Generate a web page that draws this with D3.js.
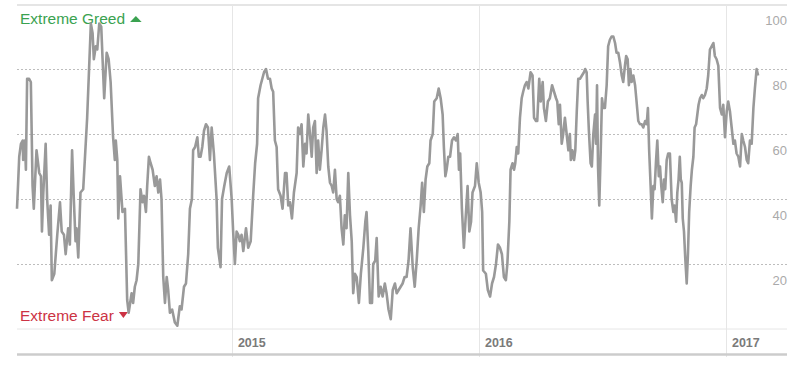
<!DOCTYPE html>
<html>
<head>
<meta charset="utf-8">
<script src="https://cdn.jsdelivr.net/npm/d3@7"></script>
<style>
  body { margin: 0; background: #fff; }
  svg text { font-family: "Liberation Sans", Arial, Helvetica, sans-serif; }
</style>
</head>
<body>
<div id="chart"></div>
<script>
// fear & greed index, dates as decimal years
var dates = [
  2014.130, 2014.134, 2014.139, 2014.146, 2014.153, 2014.155, 2014.162, 2014.166, 2014.171, 2014.179, 2014.186, 2014.190, 2014.193, 2014.198,
  2014.209, 2014.220, 2014.227, 2014.231, 2014.236, 2014.246, 2014.252, 2014.260, 2014.266, 2014.271, 2014.281, 2014.293, 2014.304, 2014.311, 2014.320, 2014.327,
  2014.337, 2014.344, 2014.353, 2014.360, 2014.367, 2014.371, 2014.378, 2014.387, 2014.398, 2014.414, 2014.429, 2014.436, 2014.441, 2014.449, 2014.455,
  2014.463, 2014.471, 2014.483, 2014.493, 2014.501, 2014.509, 2014.519, 2014.526, 2014.530, 2014.536, 2014.540, 2014.547, 2014.557, 2014.567, 2014.576,
  2014.582, 2014.594, 2014.600, 2014.607, 2014.614, 2014.621, 2014.630, 2014.638, 2014.644, 2014.652, 2014.657, 2014.664, 2014.671, 2014.679, 2014.688,
  2014.695, 2014.702, 2014.709, 2014.715, 2014.722, 2014.729, 2014.736, 2014.742, 2014.749, 2014.758, 2014.769, 2014.779, 2014.789, 2014.796, 2014.806,
  2014.814, 2014.823, 2014.830, 2014.838, 2014.843, 2014.851, 2014.860, 2014.866, 2014.873, 2014.880, 2014.887, 2014.895, 2014.903, 2014.911, 2014.918,
  2014.927, 2014.938, 2014.943, 2014.954, 2014.960, 2014.969, 2014.979, 2014.989, 2014.999,
  2015.005, 2015.012, 2015.019, 2015.026, 2015.032, 2015.039, 2015.046, 2015.057, 2015.066, 2015.076, 2015.086, 2015.094, 2015.102, 2015.106, 2015.116,
  2015.130, 2015.138, 2015.146, 2015.154, 2015.161, 2015.167, 2015.174, 2015.181, 2015.187, 2015.197, 2015.205, 2015.215, 2015.221, 2015.228, 2015.235,
  2015.243, 2015.251, 2015.262, 2015.268, 2015.275, 2015.282, 2015.289, 2015.296, 2015.302, 2015.309, 2015.316, 2015.323, 2015.329, 2015.336, 2015.343,
  2015.349, 2015.356, 2015.363, 2015.370, 2015.377, 2015.383, 2015.390, 2015.397, 2015.404, 2015.410, 2015.417, 2015.424, 2015.430, 2015.437, 2015.444,
  2015.451, 2015.457, 2015.464, 2015.471, 2015.478, 2015.485, 2015.491, 2015.498, 2015.505, 2015.514, 2015.522, 2015.532, 2015.540, 2015.545, 2015.552,
  2015.559, 2015.567, 2015.572, 2015.580, 2015.586, 2015.594, 2015.602, 2015.610, 2015.619, 2015.626, 2015.634, 2015.643, 2015.651, 2015.660, 2015.667,
  2015.675, 2015.683, 2015.691, 2015.699, 2015.707, 2015.715, 2015.723, 2015.732, 2015.740, 2015.748, 2015.756, 2015.764, 2015.770, 2015.777, 2015.784,
  2015.791, 2015.799, 2015.804, 2015.813, 2015.819, 2015.829, 2015.837, 2015.845, 2015.853, 2015.858, 2015.864, 2015.869, 2015.876, 2015.883, 2015.891,
  2015.899, 2015.907, 2015.914, 2015.919, 2015.924, 2015.931, 2015.939, 2015.946, 2015.954, 2015.961, 2015.968, 2015.974, 2015.984, 2015.991, 2015.999,
  2016.007, 2016.013, 2016.017, 2016.028, 2016.036, 2016.045, 2016.053, 2016.061, 2016.069, 2016.077, 2016.085, 2016.093, 2016.101, 2016.109, 2016.115,
  2016.123, 2016.128, 2016.136, 2016.142, 2016.147, 2016.153, 2016.159, 2016.166, 2016.173, 2016.179, 2016.186, 2016.193, 2016.200, 2016.209, 2016.217,
  2016.223, 2016.231, 2016.236, 2016.244, 2016.250, 2016.258, 2016.263, 2016.271, 2016.279, 2016.287, 2016.296, 2016.304, 2016.312, 2016.317, 2016.323,
  2016.328, 2016.335, 2016.341, 2016.348, 2016.355, 2016.362, 2016.368, 2016.372, 2016.378, 2016.385, 2016.390, 2016.396, 2016.402, 2016.409, 2016.417,
  2016.425, 2016.430, 2016.436, 2016.440, 2016.445, 2016.452, 2016.457, 2016.463, 2016.470, 2016.474, 2016.478, 2016.482, 2016.487, 2016.493, 2016.498,
  2016.503, 2016.510, 2016.517, 2016.523, 2016.530, 2016.537, 2016.544, 2016.551, 2016.557, 2016.564, 2016.571, 2016.578, 2016.584, 2016.591, 2016.596,
  2016.602, 2016.607, 2016.613, 2016.618, 2016.625, 2016.632, 2016.638, 2016.645, 2016.652, 2016.659, 2016.665, 2016.673, 2016.679, 2016.684, 2016.689,
  2016.695, 2016.700, 2016.706, 2016.711, 2016.717, 2016.722, 2016.728, 2016.733, 2016.738, 2016.744, 2016.749, 2016.754, 2016.760, 2016.766, 2016.773,
  2016.780, 2016.787, 2016.792, 2016.798, 2016.803, 2016.808, 2016.813, 2016.817, 2016.821, 2016.825, 2016.830, 2016.835, 2016.841, 2016.846, 2016.851,
  2016.857, 2016.862, 2016.868, 2016.873, 2016.879, 2016.884, 2016.889, 2016.895, 2016.902, 2016.908, 2016.915, 2016.922, 2016.928, 2016.935, 2016.942,
  2016.949, 2016.955, 2016.962, 2016.969, 2016.976, 2016.983, 2016.989, 2016.996,
  2017.003, 2017.009, 2017.016, 2017.023, 2017.030, 2017.036, 2017.043, 2017.050, 2017.057, 2017.064, 2017.070, 2017.077, 2017.084, 2017.090, 2017.097, 2017.104, 2017.111, 2017.117, 2017.124, 2017.130
];

var scores = [
  37,44,53,57,58,52,58,49,77,77,76,58,44,37,
  55,48,47,30,41,57,40,29,38,15,17,29,39,30,29,23,
  31,26,55,40,27,31,22,42,43,65,94,91,83,87,86,
  94,93,71,85,83,76,59,52,58,52,34,47,36,37,9,
  5,11,8,13,15,20,43,39,41,36,44,53,51,49,44,
  47,42,46,40,16,8,16,12,5,6,2,1,7,6,13,
  14,23,37,40,55,56,59,53,53,56,61,63,62,52,62,
  54,40,25,19,40,44,48,50,40,
  30,20,30,29,27,29,24,31,25,27,41,51,57,71,75,
  79,80,77,77,74,73,58,56,43,41,37,48,48,38,39,
  34,42,48,62,60,63,50,57,54,66,60,53,62,64,48,
  58,49,55,62,66,61,50,45,44,42,49,40,39,41,31,
  26,35,31,48,35,27,11,17,16,8,17,25,33,36,24,
  8,8,20,21,28,10,13,10,14,11,6,3,12,14,11,
  12,13,14,16,16,21,31,19,13,21,31,38,45,36,46,
  50,51,58,60,70,71,74,71,66,56,47,49,53,53,58,
  59,58,60,49,54,37,25,34,44,30,33,42,44,51,45,
  42,36,18,17,12,10,14,16,20,26,25,23,16,15,20,
  33,49,51,49,51,56,54,65,71,73,75,76,74,79,78,
  65,64,64,77,70,76,68,64,70,71,75,73,71,70,63,
  69,57,60,65,60,55,60,52,55,52,55,67,77,77,78,
  79,80,79,70,61,51,50,60,66,57,75,50,38,55,71,
  68,68,75,87,89,90,90,88,85,85,82,78,76,81,84,
  83,75,80,76,78,75,70,64,63,63,62,64,63,68,55,
  44,34,44,43,52,58,47,50,44,39,46,43,52,54,54,
  40,36,38,33,42,46,53,46,45,34,30,22,14,23,36,
  44,49,53,62,63,66,69,71,72,71,72,74,78,86,87,
  88,84,83,81,68,66,69,59,
  67,70,67,62,57,58,54,53,50,60,58,56,52,51,58,57,68,74,80,78
];

var scoreTicks = [20, 40, 60, 80];
var scoreLabels = [20, 40, 60, 80, 100];
var yearTicks = [2015, 2016, 2017];
var greedLabel = "Extreme Greed",
    fearLabel = "Extreme Fear";

var width = 803,
    height = 366;
var plot = { left: 17, right: 787, top: 4, bottom: 329 };
var axisEnd = 2017.247;

var points = dates.map(function(d, i) { return { date: d, score: scores[i] }; });

var x = d3.scaleLinear()
  .domain([dates[0], axisEnd])
  .range([plot.left, plot.right]);

var y = d3.scaleLinear()
  .domain([0, 100])
  .range([plot.bottom, plot.top]);

var svg;

createSVG();
drawFrame();
drawZoneLabels();
drawLine();

function createSVG() {
  svg = d3.select("#chart")
    .append("svg")
      .attr("width", width)
      .attr("height", height);
}

function drawFrame() {
  // top border + zero line
  svg.append("line")
    .attr("x1", plot.left).attr("x2", plot.right)
    .attr("y1", y(100) + 1).attr("y2", y(100) + 1)
    .attr("stroke", "#dcdcdc").attr("stroke-width", 1.5);

  svg.append("line")
    .attr("x1", plot.left).attr("x2", plot.right)
    .attr("y1", y(0)).attr("y2", y(0))
    .attr("stroke", "#e6e6e6").attr("stroke-width", 1);

  svg.selectAll(".grid")
    .data(scoreTicks)
    .enter()
      .append("line")
      .attr("class", "grid")
      .attr("x1", plot.left).attr("x2", plot.right)
      .attr("y1", function(d) { return Math.round(y(d)) + 0.5; })
      .attr("y2", function(d) { return Math.round(y(d)) + 0.5; })
      .attr("stroke", "#bdbdbd")
      .attr("stroke-width", 1)
      .attr("stroke-dasharray", "2,2");

  svg.selectAll(".score-label")
    .data(scoreLabels)
    .enter()
      .append("text")
      .attr("class", "score-label")
      .attr("x", plot.right)
      .attr("y", function(d) { return y(d) + 21; })
      .attr("text-anchor", "end")
      .attr("font-size", 13)
      .attr("fill", "#aaaaaa")
      .text(function(d) { return d; });

  svg.selectAll(".year-line")
    .data(yearTicks)
    .enter()
      .append("line")
      .attr("class", "year-line")
      .attr("x1", function(d) { return Math.round(x(d)) + 0.5; })
      .attr("x2", function(d) { return Math.round(x(d)) + 0.5; })
      .attr("y1", y(100) + 1)
      .attr("y2", 357)
      .attr("stroke", "#e6e6e6");

  svg.selectAll(".year-label")
    .data(yearTicks)
    .enter()
      .append("text")
      .attr("class", "year-label")
      .attr("x", function(d) { return x(d) + 6; })
      .attr("y", 347)
      .attr("font-size", 12.5)
      .attr("font-weight", "bold")
      .attr("fill", "#7a7a7a")
      .text(function(d) { return d; });

  svg.append("line")
    .attr("x1", plot.left).attr("x2", plot.right)
    .attr("y1", 354.5).attr("y2", 354.5)
    .attr("stroke", "#cccccc").attr("stroke-width", 2.5);
}

function drawZoneLabels() {
  var greed = svg.append("text")
    .attr("x", 20)
    .attr("y", 24)
    .attr("font-size", 15.5)
    .attr("fill", "#3aa250")
    .text(greedLabel);
  var gx = 20 + greed.node().getComputedTextLength() + 5;
  svg.append("path")
    .attr("d", "M" + gx + ",22 L" + (gx + 11.5) + ",22 L" + (gx + 5.75) + ",16 Z")
    .attr("fill", "#3aa250");

  var fear = svg.append("text")
    .attr("x", 20)
    .attr("y", 321)
    .attr("font-size", 15.5)
    .attr("fill", "#cc3344")
    .text(fearLabel);
  var fx = 20 + fear.node().getComputedTextLength() + 5;
  svg.append("path")
    .attr("d", "M" + fx + ",312 L" + (fx + 9) + ",312 L" + (fx + 4.5) + ",318 Z")
    .attr("fill", "#cc3344");
}

function drawLine() {
  var line = d3.line()
    .x(function(d) { return x(d.date); })
    .y(function(d) { return y(d.score); });

  svg.append("path")
    .datum(points)
    .attr("d", line)
    .attr("fill", "none")
    .attr("stroke", "#999999")
    .attr("stroke-width", 2.6)
    .attr("stroke-linejoin", "round");
}
</script>
</body>
</html>
